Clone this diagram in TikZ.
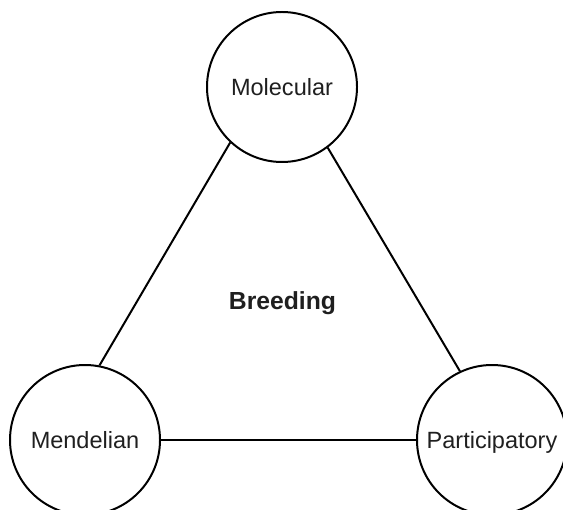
\documentclass[tikz,border=0pt]{standalone}
\usepackage{fontspec}
\setmainfont{Liberation Sans}
\usetikzlibrary{positioning}

\begin{document}
\begin{tikzpicture}[x=0.5bp, y=-0.5bp, field/.style={draw, circle, line width=1pt, inner sep=0pt, minimum size=75bp, font=\fontsize{11.8}{14}\selectfont, text height=8.5pt, text depth=0pt, text=black!88}, link/.style={line width=1pt}]
\useasboundingbox (0,0) rectangle (563,510);
\node[field] (mol) at (282,87) {Molecular};
\node[field] (men) at (85,440) {Mendelian};
\node[field] (par) at (492,440) {Participatory};
\node[font=\bfseries\fontsize{12.4}{14}\selectfont, text=black!88] (brd) at (282.5,303) {Breeding};
\draw[link] (mol.227) -- (men.79);
\draw[link] (mol.307) -- (par.115);
\draw[link] (men.east) -- (par.west);
\end{tikzpicture}
\end{document}
